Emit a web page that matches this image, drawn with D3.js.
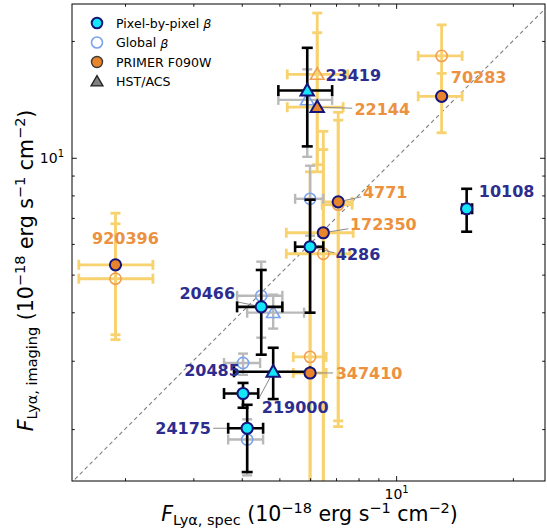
<!DOCTYPE html>
<html>
<head>
<meta charset="utf-8">
<script src="https://cdn.jsdelivr.net/npm/d3@7"></script>
<style>
  body { margin: 0; background: #fff; }
  text { font-family: "DejaVu Sans", sans-serif; }
</style>
</head>
<body>
<svg id="chart" width="547" height="529"></svg>
<script>
// ---- Lyα flux: imaging estimate vs spectroscopic measurement (10^-18 erg s^-1 cm^-2) ----

// Pixel-by-pixel β (filled cyan, black error bars)
const pixelIds   = ["23419", "4286", "10108", "20466", "20485", "219000", "24175"];
const pixelShape = ["tri", "circ", "circ", "circ", "circ", "tri", "circ"];
const pixelX     = [5.90, 6.00, 15.2, 4.49, 4.03, 4.82, 4.13];
const pixelXLo   = [4.97, 5.49, 14.8, 3.89, 3.60, 3.82, 3.69];
const pixelXHi   = [6.84, 6.49, 15.7, 5.09, 4.41, 6.00, 4.54];
const pixelY     = [14.9, 5.90, 7.39, 4.13, 2.47, 2.81, 2.01];
const pixelYLo   = [10.7, 3.99, 6.45, 3.11, 2.27, 2.39, 1.55];
const pixelYHi   = [19.2, 7.80, 8.32, 5.14, 2.63, 3.24, 2.31];

// Global β (open blue, grey error bars)
const globalIds   = ["23419", "4286", "20466", "219000", "20485", "24175"];
const globalShape = ["tri", "circ", "circ", "tri", "circ", "circ"];
const globalX     = [5.90, 6.00, 4.49, 4.82, 4.03, 4.13];
const globalXLo   = [4.97, 5.49, 3.89, 4.13, 3.60, 3.69];
const globalXHi   = [6.84, 6.49, 5.09, 5.79, 4.46, 4.54];
const globalY     = [14.1, 7.84, 4.41, 3.99, 2.96, 1.88];
const globalYLo   = [10.06, 6.30, 3.44, 3.63, 2.76, 1.52];
const globalYHi   = [16.9, 9.54, 5.40, 4.44, 3.13, 2.12];

// PRIMER F090W, pixel-by-pixel β (filled orange, yellow error bars)
const primerIds   = ["70283", "22144", "4771", "172350", "920396", "347410"];
const primerShape = ["circ", "tri", "circ", "circ", "circ", "circ"];
const primerX     = [13.1, 6.26, 7.09, 6.49, 1.89, 6.00];
const primerXLo   = [11.4, 5.24, 6.45, 5.21, 1.52, 5.43];
const primerXHi   = [14.8, 7.30, 7.70, 7.75, 2.36, 6.60];
const primerY     = [14.4, 13.5, 7.70, 6.41, 5.30, 2.79];
const primerYLo   = [11.6, 9.2, 2.03, 1.2, 3.5, 1.2];
const primerYHi   = [16.5, 21.0, 13.1, 11.7, 7.2, 5.97];

// PRIMER F090W, global β (open orange, yellow error bars)
const primerGlobalX   = [13.1, 6.26, 7.09, 6.49, 1.89, 6.00];
const primerGlobalXLo = [11.4, 5.24, 6.45, 5.21, 1.52, 5.43];
const primerGlobalXHi = [14.8, 7.50, 7.70, 7.60, 2.36, 6.60];
const primerGlobalY   = [18.3, 16.4, 7.57, 5.66, 4.88, 3.07];
const primerGlobalYLo = [14.5, 9.6, 2.1, 1.2, 3.4, 1.2];
const primerGlobalYHi = [22.0, 23.6, 12.5, 10.5, 6.76, 9.2];

// Axis ticks
const majorTicks = [10];
const minorTicks = [2, 3, 4, 5, 6, 7, 8, 9, 20];
const majorTickLabel = ["10", "1"];   // base, exponent

const legendLabels = ["Pixel-by-pixel ", "Global ", "PRIMER F090W", "HST/ACS"];

// ---- layout ----
const W = 547, H = 529;
const L = 72, R = 545, T = 4, B = 481;
const svg = d3.select("#chart");

const x = d3.scaleLog().domain([1.46, 24.2]).range([L, R]);
const y = d3.scaleLog().domain([1.47, 24.9]).range([B, T]);

const NAVY = "#14147a", CYAN = "#14e6f7", ORANGE = "#e8842c",
      OPEN_ORANGE = "#f0a050", OPEN_BLUE = "#7aa2ee",
      YELLOW = "#f7d26e", GREY = "#b9b9b9",
      LBL_NAVY = "#2d2d8f", LBL_ORANGE = "#eb9140";

svg.append("clipPath").attr("id", "plotClip")
  .append("rect").attr("x", L).attr("y", T).attr("width", R - L).attr("height", B - T);

const plot = svg.append("g").attr("clip-path", "url(#plotClip)");

// 1:1 line
const dom = [1.4, 26];
plot.append("line")
  .attr("x1", x(dom[0])).attr("y1", y(dom[0]))
  .attr("x2", x(dom[1])).attr("y2", y(dom[1]))
  .attr("stroke", "#808080").attr("stroke-width", 1.1)
  .attr("stroke-dasharray", "4,3");

function rows(ids, shape, X, XLo, XHi, Y, YLo, YHi) {
  return X.map((v, i) => ({ id: ids[i], shape: shape[i], x: v, xlo: XLo[i], xhi: XHi[i], y: Y[i], ylo: YLo[i], yhi: YHi[i] }));
}
const pixel = rows(pixelIds, pixelShape, pixelX, pixelXLo, pixelXHi, pixelY, pixelYLo, pixelYHi);
const glob = rows(globalIds, globalShape, globalX, globalXLo, globalXHi, globalY, globalYLo, globalYHi);
const primer = rows(primerIds, primerShape, primerX, primerXLo, primerXHi, primerY, primerYLo, primerYHi);
const primerGlob = rows(primerIds, primerShape, primerGlobalX, primerGlobalXLo, primerGlobalXHi, primerGlobalY, primerGlobalYLo, primerGlobalYHi);

function errorbars(g, data, color, width, cap) {
  const e = g.append("g").attr("stroke", color).attr("stroke-width", width).attr("fill", "none");
  data.forEach(d => {
    const cx = x(d.x), cy = y(d.y);
    e.append("line").attr("x1", x(d.xlo)).attr("x2", x(d.xhi)).attr("y1", cy).attr("y2", cy);
    e.append("line").attr("x1", cx).attr("x2", cx).attr("y1", y(d.ylo)).attr("y2", y(d.yhi));
    [d.xlo, d.xhi].forEach(v => e.append("line")
      .attr("x1", x(v)).attr("x2", x(v)).attr("y1", cy - cap).attr("y2", cy + cap));
    [d.ylo, d.yhi].forEach(v => e.append("line")
      .attr("x1", cx - cap).attr("x2", cx + cap).attr("y1", y(v)).attr("y2", y(v)));
  });
}

const triPath = d3.symbol().type(d3.symbolTriangle).size(78)();
function markers(g, data, fill, stroke, sw) {
  data.forEach(d => {
    const cx = x(d.x), cy = y(d.y);
    if (d.shape === "tri") {
      g.append("path").attr("d", triPath)
        .attr("transform", `translate(${cx},${cy + 1})`)
        .attr("fill", fill).attr("stroke", stroke).attr("stroke-width", sw)
        .attr("stroke-linejoin", "miter");
    } else {
      g.append("circle").attr("cx", cx).attr("cy", cy).attr("r", 5.6)
        .attr("fill", fill).attr("stroke", stroke).attr("stroke-width", sw);
    }
  });
}

// error bars underneath
errorbars(plot, primerGlob, YELLOW, 2.8, 5);
errorbars(plot, primer, YELLOW, 2.8, 5);
errorbars(plot, glob, GREY, 2.4, 5);

// open markers
markers(plot, glob, "none", OPEN_BLUE, 1.6);
markers(plot, primerGlob, "none", OPEN_ORANGE, 1.6);

// label placement (offsets from the marker, in px) and leader-line ends
const labelPos = {
  "23419":  { dx: 46, dy: -15, c: LBL_NAVY },
  "4286":   { dx: 48, dy: 8,   c: LBL_NAVY,   lead: [24, 6] },
  "10108":  { dx: 40, dy: -17, c: LBL_NAVY },
  "20466":  { dx: -54, dy: -13, c: LBL_NAVY,  lead: [-24, -5] },
  "20485":  { dx: -31, dy: -23, c: LBL_NAVY },
  "219000": { dx: 22, dy: 36,  c: LBL_NAVY,   lead: [-14, 26] },
  "24175":  { dx: -64, dy: 0,  c: LBL_NAVY,   lead: [-34, 0] },
  "70283":  { dx: 37, dy: -19, c: LBL_ORANGE },
  "22144":  { dx: 65, dy: 2,   c: LBL_ORANGE, lead: [35, 1] },
  "4771":   { dx: 47, dy: -9,  c: LBL_ORANGE, lead: [23, -5] },
  "172350": { dx: 60, dy: -8,  c: LBL_ORANGE, lead: [25, -4] },
  "920396": { dx: 10, dy: -26, c: LBL_ORANGE },
  "347410": { dx: 59, dy: 1,   c: LBL_ORANGE, lead: [23, 0] }
};
const labelled = pixel.concat(primer);

// leader lines
labelled.forEach(d => {
  const p = labelPos[d.id];
  if (!p.lead) return;
  plot.append("line")
    .attr("x1", x(d.x)).attr("y1", y(d.y))
    .attr("x2", x(d.x) + p.lead[0]).attr("y2", y(d.y) + p.lead[1])
    .attr("stroke", "#8a8a8a").attr("stroke-width", 1);
});

// pixel-by-pixel error bars and filled markers on top
errorbars(plot, pixel, "#000", 2.6, 5.5);
markers(plot, primer, ORANGE, NAVY, 2);
markers(plot, pixel, CYAN, NAVY, 2);

// object labels
labelled.forEach(d => {
  const p = labelPos[d.id];
  svg.append("text")
    .attr("x", x(d.x) + p.dx).attr("y", y(d.y) + p.dy)
    .attr("text-anchor", "middle").attr("dominant-baseline", "central")
    .attr("font-size", 16).attr("font-weight", "bold").attr("fill", p.c)
    .text(d.id);
});

// ---- axes (ticks point inward, on all four sides) ----
function styleAxis(g) {
  g.select(".domain").remove();
  g.selectAll(".tick line").attr("stroke", "#000").attr("stroke-width", 0.9);
}
function majorLabels(g) {
  g.selectAll(".tick text").each(function () {
    const t = d3.select(this);
    t.text(majorTickLabel[0]).attr("font-size", 14).attr("fill", "#000")
      .attr("font-family", "DejaVu Sans, sans-serif");
    t.append("tspan").attr("font-size", 10).attr("dy", "-0.55em").text(majorTickLabel[1]);
  });
}

const axB = svg.append("g").attr("transform", `translate(0,${B})`);
axB.append("g").call(d3.axisBottom(x).tickValues(minorTicks).tickSize(-2.8).tickFormat("")).call(styleAxis);
axB.append("g").call(d3.axisBottom(x).tickValues(majorTicks).tickSize(-4.9).tickPadding(8).tickFormat(() => "")).call(styleAxis).call(majorLabels);

const axT = svg.append("g").attr("transform", `translate(0,${T})`);
axT.append("g").call(d3.axisTop(x).tickValues(minorTicks).tickSize(-2.8).tickFormat("")).call(styleAxis);
axT.append("g").call(d3.axisTop(x).tickValues(majorTicks).tickSize(-4.9).tickFormat("")).call(styleAxis);

const axL = svg.append("g").attr("transform", `translate(${L},0)`);
axL.append("g").call(d3.axisLeft(y).tickValues(minorTicks).tickSize(-2.8).tickFormat("")).call(styleAxis);
axL.append("g").call(d3.axisLeft(y).tickValues(majorTicks).tickSize(-4.9).tickPadding(8).tickFormat(() => "")).call(styleAxis).call(majorLabels);

const axR = svg.append("g").attr("transform", `translate(${R},0)`);
axR.append("g").call(d3.axisRight(y).tickValues(minorTicks).tickSize(-2.8).tickFormat("")).call(styleAxis);
axR.append("g").call(d3.axisRight(y).tickValues(majorTicks).tickSize(-4.9).tickFormat("")).call(styleAxis);

// frame
svg.append("rect").attr("x", L).attr("y", T).attr("width", R - L).attr("height", B - T)
  .attr("fill", "none").attr("stroke", "#000").attr("stroke-width", 1);

// ---- axis titles ----
function fluxTitle(t, sub) {
  t.append("tspan").attr("font-style", "italic").text("F");
  t.append("tspan").attr("font-size", 14.5).attr("dy", 4).text("Lyα, " + sub);
  t.append("tspan").attr("dy", -4).text(" (10");
  t.append("tspan").attr("font-size", 14.5).attr("dy", -8).text("−18");
  t.append("tspan").attr("dy", 8).text(" erg s");
  t.append("tspan").attr("font-size", 14.5).attr("dy", -8).text("−1");
  t.append("tspan").attr("dy", 8).text(" cm");
  t.append("tspan").attr("font-size", 14.5).attr("dy", -8).text("−2");
  t.append("tspan").attr("dy", 8).text(")");
}
const xt = svg.append("text").attr("x", (L + R) / 2 + 1).attr("y", 521)
  .attr("text-anchor", "middle").attr("font-size", 20.5).attr("fill", "#000");
fluxTitle(xt, "spec");

const yt = svg.append("text").attr("transform", `translate(33,${(T + B) / 2 + 28}) rotate(-90)`)
  .attr("text-anchor", "middle").attr("font-size", 20.5).attr("fill", "#000");
fluxTitle(yt, "imaging");

// ---- legend ----
const leg = svg.append("g").attr("transform", "translate(97,23)");
const legRows = [0, 19.5, 39, 58.5];
leg.append("circle").attr("cx", 0).attr("cy", legRows[0]).attr("r", 5.3)
  .attr("fill", CYAN).attr("stroke", NAVY).attr("stroke-width", 2);
leg.append("circle").attr("cx", 0).attr("cy", legRows[1]).attr("r", 5.5)
  .attr("fill", "none").attr("stroke", OPEN_BLUE).attr("stroke-width", 1.6);
leg.append("circle").attr("cx", 0).attr("cy", legRows[2]).attr("r", 5.5)
  .attr("fill", ORANGE).attr("stroke", "#3a3a3a").attr("stroke-width", 1.4);
leg.append("path").attr("d", d3.symbol().type(d3.symbolTriangle).size(62)())
  .attr("transform", `translate(0,${legRows[3] + 1})`)
  .attr("fill", "#808080").attr("stroke", "#222").attr("stroke-width", 1.3);
legendLabels.forEach((s, i) => {
  const t = leg.append("text").attr("x", 19).attr("y", legRows[i])
    .attr("dominant-baseline", "central").attr("font-size", 12.6).attr("fill", "#000").text(s);
  if (i < 2) t.append("tspan").attr("font-style", "italic").text("β");
});
</script>
</body>
</html>
